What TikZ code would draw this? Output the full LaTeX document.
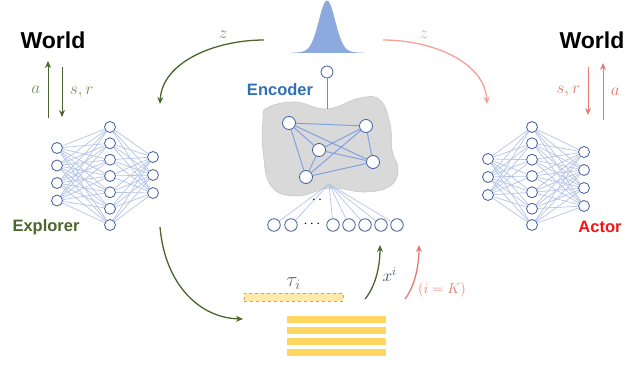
\documentclass[tikz,border=0pt]{standalone}
\usepackage{fontspec}
\setmainfont{Liberation Sans}
\usetikzlibrary{arrows.meta, positioning, calc}
\definecolor{expGreen}{RGB}{74,102,44}
\definecolor{lblGreen}{RGB}{112,146,82}
\definecolor{actRed}{RGB}{245,20,20}
\definecolor{salmon}{RGB}{226,122,112}
\definecolor{lightSalmon}{RGB}{246,160,150}
\definecolor{nodeBlue}{RGB}{62,92,162}
\definecolor{netEdge}{RGB}{180,196,230}
\definecolor{encBlue}{RGB}{48,112,182}
\definecolor{graphEdge}{RGB}{128,162,224}
\definecolor{gaussBlue}{RGB}{140,170,222}
\definecolor{bufYellow}{RGB}{255,214,96}
\definecolor{bufLight}{RGB}{255,234,172}
\tikzstyle{neuron} = [circle, draw=nodeBlue, fill=white, line width=0.8pt, minimum size=11pt, inner sep=0pt]
\tikzstyle{gnode} = [neuron, minimum size=13pt]
\tikzstyle{netline} = [draw=netEdge, line width=0.7pt]
\tikzstyle{title} = [font=\fontsize{16.5}{18}\selectfont\bfseries]
\tikzstyle{world} = [font=\fontsize{23}{26}\selectfont\bfseries]
\tikzstyle{mlabel} = [font=\fontsize{17}{19}\selectfont]
\tikzstyle{garrow} = [draw=expGreen, line width=1.3pt, -{Stealth[length=7pt, width=6pt]}]
\tikzstyle{sarrow} = [draw=salmon, line width=1.3pt, -{Stealth[length=7pt, width=6pt]}]
\tikzstyle{larrow} = [draw=lightSalmon, line width=1.3pt, -{Stealth[length=7pt, width=6pt]}]

\begin{document}
\begin{tikzpicture}[x=1pt, y=-1pt]
			\useasboundingbox (0,0) rectangle (644,364);
			
			% world and its arrows
			\node (wleft) [world] at (53,40) {World};
			\node (wright) [world] at (592,40) {World};
			\coordinate (la1) at (48,118); \coordinate (la2) at (48,61);
			\coordinate (ls1) at (62,67); \coordinate (ls2) at (62,117);
			\draw[garrow, line width=1pt] (la1) -- node[mlabel, lblGreen, left=4pt] {$a$} (la2);
			\draw[garrow, line width=1pt] (ls1) -- node[mlabel, lblGreen, right=4pt] {$s,r$} (ls2);
			\coordinate (rs1) at (588,67); \coordinate (rs2) at (588,115);
			\coordinate (ra1) at (603,120); \coordinate (ra2) at (603,63);
			\draw[sarrow, line width=1pt] (rs1) -- node[mlabel, salmon, left=4pt] {$s,r$} (rs2);
			\draw[sarrow, line width=1pt] (ra1) -- node[mlabel, salmon, right=4pt] {$a$} (ra2);
			
			% explorer network
			\foreach \y [count=\i] in {148,165.5,183,200.5}
				\node (ein\i) [neuron] at (57,\y) {};
			\foreach \y [count=\i] in {127,143.3,159.7,176,192.3,208.7,225}
				\node (ehid\i) [neuron] at (110,\y) {};
			\foreach \y [count=\i] in {157,175,193}
				\node (eout\i) [neuron] at (153,\y) {};
			\foreach \i in {1,...,4}
				\foreach \j in {1,...,7}
					\draw[netline] (ein\i) -- (ehid\j);
			\foreach \j in {1,...,7}
				\foreach \k in {1,...,3}
					\draw[netline] (ehid\j) -- (eout\k);
			\node (explorer) [title, expGreen] at (46,227) {Explorer};
			
			% actor network
			\foreach \y [count=\i] in {159,177,195}
				\node (ain\i) [neuron] at (488,\y) {};
			\foreach \y [count=\i] in {127,143.3,159.7,176,192.3,208.7,225}
				\node (ahid\i) [neuron] at (532,\y) {};
			\foreach \y [count=\i] in {152,170,188,206}
				\node (aout\i) [neuron] at (584,\y) {};
			\foreach \i in {1,...,3}
				\foreach \j in {1,...,7}
					\draw[netline] (ain\i) -- (ahid\j);
			\foreach \j in {1,...,7}
				\foreach \k in {1,...,4}
					\draw[netline] (ahid\j) -- (aout\k);
			\node (actor) [title, actRed] at (600,227) {Actor};
			
			% prior
			\fill[gaussBlue] plot[domain=290:364, samples=90] (\x, {53 - 50*exp(-((\x-327)/11.5)^2) - 2.5*exp(-((\x-327)/24)^2)}) -- cycle;
			
			% encoder
			\draw[fill=black!15, draw=black!22, line width=0.6pt] plot[smooth cycle, tension=0.7] coordinates {(267,108) (295,102) (327,109) (360,98) (380,100) (390,124) (392,150) (398,170) (390,186) (365,192) (330,188) (297,196) (271,186) (263,150) (263,120)};
			\node (encoder) [title, encBlue] at (280,90) {Encoder};
			\node (zn) [neuron, minimum size=12pt] at (327,72) {};
			\coordinate (btop) at (327,109);
			\draw[draw=black!45, line width=0.7pt] (zn) -- (btop);
			\node (ga) [gnode] at (289,123) {};
			\node (gb) [gnode] at (366,126) {};
			\node (gc) [gnode] at (319,150) {};
			\node (gd) [gnode] at (373,162) {};
			\node (ge) [gnode] at (306,177) {};
			\foreach \u/\v in {ga/gb, ga/gc, ga/gd, ga/ge, gb/gc, gb/gd, gb/ge, gc/gd, gc/ge, gd/ge}
				\draw[draw=graphEdge, line width=1pt] (\u) -- (\v);
			
			% observations
			\coordinate (fan) at (329,184);
			\foreach \x [count=\i] in {274,291,333,349,365,381,397}
				\node (obs\i) [neuron, minimum size=12.5pt] at (\x,225) {};
			\foreach \i in {1,...,7}
				\draw[netline] (fan) -- (obs\i);
			\node (odots) [font=\fontsize{14}{16}\selectfont] at (312,224) {$\cdots$};
			\node (fdots) [font=\fontsize{14}{16}\selectfont] at (317,200) {$\cdot\,\cdot$};
			
			% replay buffer
			\node (traj) [draw=bufYellow!80!black, dashed, fill=bufLight, minimum width=99pt, minimum height=8pt, inner sep=0pt] at (293.5,297) {};
			\node (tau) [font=\fontsize{20}{22}\selectfont, black!60, above=0pt of traj] {$\tau_i$};
			\foreach \y [count=\i] in {319.5,330.5,341.5,352.5}
				\node (buf\i) [fill=bufYellow, minimum width=99pt, minimum height=7.5pt, inner sep=0pt] at (336.5,\y) {};
			
			% flows
			\coordinate (zl1) at (264,40); \coordinate (zl2) at (160,104);
			\draw[garrow] (zl1) .. controls (215,40) and (162,62) .. node[pos=0.28, above=3pt, mlabel, lblGreen] {$z$} (zl2);
			\coordinate (zr1) at (383,40); \coordinate (zr2) at (487,104);
			\draw[larrow] (zr1) .. controls (432,40) and (485,62) .. node[pos=0.28, above=3pt, mlabel, lightSalmon] {$z$} (zr2);
			\coordinate (ex1) at (160,227);
			\coordinate (bf1) at (243,319);
			\draw[garrow] (ex1) .. controls (165,285) and (200,318) .. (bf1);
			\coordinate (xi1) at (365,299); \coordinate (xi2) at (380,245);
			\draw[garrow] (xi1) .. controls (376,286) and (380,265) .. node[right=2pt, mlabel, black!30!nodeBlue!80!gray] {$x^i$} (xi2);
			\coordinate (ik1) at (405,299); \coordinate (ik2) at (419,245);
			\draw[sarrow] (ik1) .. controls (415,286) and (419,265) .. (ik2);
			\node (ik) [salmon, font=\fontsize{14}{16}\selectfont] at (442,290) {$(i=K)$};
\end{tikzpicture}
\end{document}
